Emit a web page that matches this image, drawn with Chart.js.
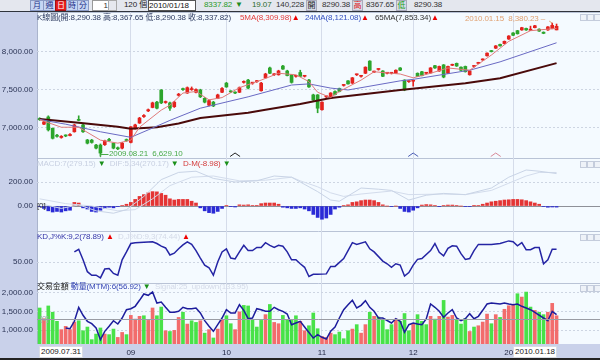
<!DOCTYPE html>
<html><head><meta charset="utf-8">
<script src="https://cdn.jsdelivr.net/npm/chart.js@4.4.1/dist/chart.umd.min.js"></script>
<style>
html,body{margin:0;padding:0;width:600px;height:360px;overflow:hidden;background:#c9d1ea;font-family:"Liberation Sans","Noto Sans CJK TC",sans-serif;font-size:8px;}
canvas{position:absolute;left:0;}
.t{position:absolute;white-space:nowrap;line-height:10px;font-size:8px;letter-spacing:-0.1px;}
.b{position:absolute;top:0;height:9px;line-height:9px;text-align:center;font-size:8px;border:1px solid #8a9ac4;background:#c6d5f3;color:#1c2f86;}
.ic{position:absolute;width:5px;height:5px;border:1px solid #c4ccdc;background:#eef2f8;}
#bar{position:absolute;left:0;top:0;width:600px;height:11px;background:#e4e7ee;border-bottom:1px solid #30343c;}
#bot{position:absolute;left:0;top:358px;width:600px;height:2px;background:#222;}
.box{position:absolute;top:346px;height:10px;line-height:10px;background:#fff;border:1px solid #d8dce4;padding:0 1px;font-size:8px;color:#222;}
</style></head><body>
<div id="bar">
  <div class="b" style="left:30px;width:12px">月</div>
  <div class="b" style="left:43px;width:11px">週</div>
  <div class="b" style="left:55px;width:10px;background:#e41c1c;color:#fff;border-color:#a01010">日</div>
  <div class="b" style="left:66px;width:10px">時</div>
  <div class="b" style="left:77px;width:10px">分</div>
  <div class="b" style="left:92px;width:15px;background:#fff;border-color:#999;color:#333;text-align:right">1</div>
  <div class="b" style="left:108px;width:7px;background:#e6e8ee;border-color:#aaa;"></div>
  <div class="t" style="left:124px;top:0;color:#222">120 個</div>
  <div class="b" style="left:148px;width:46px;background:#fff;border-color:#555;color:#111;text-align:left">2010/01/18 ▾</div>
  <div class="t" style="left:204px;top:0;color:#2a9a2a">8337.82</div>
  <div class="t" style="left:235px;top:0;color:#1e8a1e">▼</div>
  <div class="t" style="left:252px;top:0;color:#2a6a2a">19.07</div>
  <div class="t" style="left:276px;top:0;color:#333">140,228</div>
  <div class="b" style="left:306px;width:9px;background:#d6dbe6;border-color:#aab;color:#222">開</div>
  <div class="t" style="left:322px;top:0;color:#333">8290.38</div>
  <div class="b" style="left:352px;width:9px;background:#d6dbe6;border-color:#aab;color:#e01818">高</div>
  <div class="t" style="left:366px;top:0;color:#333">8367.65</div>
  <div class="b" style="left:396px;width:9px;background:#d6dbe6;border-color:#aab;color:#18a018">低</div>
  <div class="t" style="left:414px;top:0;color:#333">8290.38</div>
</div>
<canvas id="c1" width="600" height="146" style="top:12px"></canvas>
<canvas id="c2" width="600" height="73" style="top:158px"></canvas>
<canvas id="c3" width="600" height="52" style="top:231px"></canvas>
<canvas id="c4" width="600" height="75" style="top:283px"></canvas>

<div class="t" style="left:37px;top:13px;color:#2e3c62">K線圖(開:8,290.38 高:8,367.65 低:8,290.38 收:8,337.82)</div>
<div class="t" style="left:240px;top:13px;color:#e23c3c">5MA(8,309.98)<span style="color:#e00">▲</span></div>
<div class="t" style="left:305px;top:13px;color:#3450c0">24MA(8,121.08)<span style="color:#e00">▲</span></div>
<div class="t" style="left:375px;top:13px;color:#333">65MA(7,853.34)<span style="color:#e00">▲</span></div>
<div class="t" style="left:465px;top:14px;color:#e0a070">2010.01.15&nbsp;&nbsp;8,380.23 &ndash;</div>
<div class="t" style="left:109px;top:149px;color:#4aaa4a">2009.08.21&nbsp;&nbsp;6,629.10</div>

<div class="t" style="left:37px;top:159px;color:#c8d0e2">MACD:7(279.15)<span style="color:#1a901a"> ▼</span>&nbsp; DIF:5,34(270.17)<span style="color:#1a901a"> ▼</span>&nbsp; <span style="color:#d43c3c">D-M(-8.98)</span><span style="color:#1a901a"> ▼</span></div>
<div class="t" style="left:37px;top:201px;color:#333">[0]</div>

<div class="t" style="left:37px;top:232px;color:#3434a8">KD,J%K:9,2(78.89)<span style="color:#e00"> ▲</span><span style="color:#d4dae8">&nbsp; D,J%D:9,3(74.44)</span><span style="color:#e00"> ▲</span></div>

<div class="t" style="left:37px;top:282px;color:#222">交易金額&nbsp;<span style="color:#3444b4">動量(MTM):6(56.92)</span><span style="color:#1a901a"> ▼</span><span style="color:#d4dae8">&nbsp; Signal:25_updown(133.95)</span></div>
<div class="t" style="left:40px;top:314px;color:#a0a4ac">[0]</div>

<div class="ic" style="left:580px;top:14px"></div><div class="ic" style="left:587px;top:14px"></div><div class="ic" style="left:594px;top:14px"></div>
<div class="ic" style="left:580px;top:161px"></div><div class="ic" style="left:587px;top:161px"></div><div class="ic" style="left:594px;top:161px"></div>
<div class="ic" style="left:580px;top:234px"></div><div class="ic" style="left:587px;top:234px"></div><div class="ic" style="left:594px;top:234px"></div>
<div class="ic" style="left:580px;top:285px"></div><div class="ic" style="left:587px;top:285px"></div><div class="ic" style="left:594px;top:285px"></div>

<div class="box" style="left:39px">2009.07.31</div>
<div class="box" style="left:513px">2010.01.18</div>
<div id="bot"></div>

<script>
// ---------- DATA ----------
const opens = [7125,7050,7145,6996,6905,6875,6900,6900,6950,7110,
7040,6842,6840,6775,6775,6780,6850,6800,6740,6735,
6845,6810,6990,7065,7150,7225,7270,7340,7500,7335,
7330,7280,7430,7515,7460,7505,7470,7500,7390,7300,
7340,7390,7470,7590,7480,7465,7470,7600,7630,7590,
7610,7490,7660,7790,7700,7700,7815,7750,7700,7680,
7730,7680,7630,7435,7435,7240,7410,7390,7480,7520,
7560,7620,7590,7700,7680,7720,7880,7735,7770,7750,
7720,7720,7720,7790,7630,7610,7615,7720,7740,7720,
7725,7820,7750,7830,7720,7825,7850,7800,7810,7700,
7810,7850,7895,7950,8015,8050,8100,8110,8170,8250,
8280,8290,8310,8285,8320,8300,8260,8290,8310,8290.38];
const closes = [7110,7080,6975,6864,6890,6890,6895,6915,7040,7100,
6950,6800,6810,6735,6670,6830,6835,6735,6725,6800,
6835,7015,7040,7130,7165,7240,7330,7260,7330,7345,
7260,7340,7445,7505,7530,7515,7505,7410,7340,7360,
7290,7435,7520,7540,7475,7460,7530,7605,7525,7590,
7615,7590,7710,7720,7700,7750,7775,7690,7600,7680,
7680,7680,7540,7370,7260,7340,7410,7460,7440,7480,
7560,7580,7660,7700,7680,7800,7760,7745,7770,7680,
7720,7720,7760,7760,7500,7610,7620,7680,7690,7720,
7790,7790,7810,7670,7810,7835,7815,7760,7740,7750,
7810,7860,7905,7985,8005,8080,8080,8140,8210,8220,
8240,8320,8290,8300,8345,8275,8245,8330,8350,8337.82];
const highs = [7135,7090,7160,7000,6915,6900,6910,6925,7050,7160,
7050,6850,6850,6785,6790,6840,6865,6805,6750,6810,
6855,7020,7050,7140,7175,7250,7340,7350,7505,7355,
7340,7350,7455,7525,7540,7540,7515,7510,7400,7370,
7350,7445,7530,7600,7490,7475,7540,7620,7640,7600,
7625,7600,7720,7800,7715,7760,7825,7760,7705,7690,
7760,7690,7640,7445,7440,7345,7420,7465,7490,7525,
7570,7625,7665,7710,7690,7805,7885,7750,7780,7755,
7730,7730,7765,7795,7635,7620,7630,7725,7745,7730,
7795,7825,7815,7835,7815,7840,7855,7805,7815,7755,
7820,7865,7910,7990,8020,8085,8105,8145,8215,8255,
8285,8325,8315,8340,8350,8305,8265,8335,8380.23,8367.65];
const lows = [7100,7045,6960,6855,6880,6865,6885,6895,6945,7095,
6940,6790,6800,6725,6629.1,6770,6825,6725,6715,6725,
6825,6805,6985,7060,7140,7215,7265,7250,7320,7325,
7230,7270,7420,7495,7455,7495,7460,7400,7330,7290,
7280,7385,7465,7535,7465,7450,7465,7590,7515,7575,
7600,7485,7655,7715,7690,7695,7770,7685,7590,7670,
7675,7670,7535,7360,7200,7235,7400,7385,7435,7475,
7550,7575,7585,7690,7670,7715,7755,7730,7760,7675,
7710,7710,7715,7755,7490,7600,7550,7675,7685,7710,
7720,7785,7745,7660,7715,7820,7810,7755,7735,7695,
7800,7845,7890,7945,8000,8045,8075,8105,8165,8215,
8235,8285,8285,8280,8315,8270,8240,8285,8305,8290.38];

const ma5Idx = [0,5,9,14,18,21,23,28,30,33,36,39,42,46,51,55,59,62,64,67,69,74,77,81,83,86,90,94,99,104,108,113,119];
const ma5Val = [7110,7010,7010,6840,6800,6840,7010,7235,7300,7460,7480,7370,7400,7530,7630,7720,7700,7610,7470,7400,7480,7630,7740,7720,7710,7660,7720,7790,7760,7960,8140,8280,8310];
const ma24Idx = [0,2,6,14,21,25,30,37,48,58,62,67,71,83,86,99,106,119];
const ma24Val = [7115,7090,7050,6950,6877,6975,7100,7260,7410,7565,7580,7525,7500,7620,7640,7760,7870,8121];
const ma65Idx = [0,9,18,21,27,32,37,48,52,60,67,83,98,106,119];
const ma65Val = [7118,7070,7017,6990,7010,7060,7130,7200,7240,7316,7395,7500,7590,7654,7853];

const macdHist = [-5,-20,-40,-50,-45,-50,-40,-35,30,25,
-15,-25,-45,-50,-35,-20,-10,-15,-5,5,
15,30,55,80,95,110,120,118,105,90,
60,50,55,55,55,40,25,-15,-40,-55,
-60,-45,-20,5,-3,-8,10,8,10,5,
3,20,25,25,25,15,-10,-15,-20,-20,
-15,-25,-40,-70,-95,-110,-100,-70,-25,-10,
5,10,30,35,45,50,50,45,30,10,
0,-5,0,-20,-45,-50,-35,-15,8,12,
10,5,-3,5,8,8,5,0,-5,-5,
2,5,15,25,35,40,45,50,52,55,
55,52,45,35,25,15,-5,-10,-8,-8.98];
const difIdx = [0,5,9,13,17,20,24,28,32,36,40,45,50,54,58,60,64,67,69,74,78,81,85,89,93,98,104,108,112,115,119];
const difVal = [20,-20,10,-40,-60,-30,80,220,280,290,230,200,210,250,240,200,120,50,40,150,140,130,50,90,105,95,150,240,300,290,270.17];
const sigIdx = [0,6,12,18,22,26,30,35,40,46,52,58,60,64,67,70,74,81,85,93,98,104,108,112,115,119];
const sigVal = [60,20,0,-40,-30,60,170,240,250,210,215,240,210,160,110,80,100,125,95,100,95,130,190,250,280,279.15];

const kdIdx = [8,9,10,11,12,13,14,15,16,17,18,19,20,21,22,24,26,27,28,29,30,31,32,33,34,35,36,37,38,39,40,41,42,43,44,45,46,47,48,49,50,51,52,53,54,55,56,57,58,59,60,61,62,63,64,66,67,68,70,71,72,73,75,76,77,79,80,81,82,83,84,85,86,87,88,90,91,92,93,94,95,96,97,98,99,100,101,103,104,106,108,109,110,111,112,113,114,115,116,117,118,119];
const kdVal = [73,79,55,28,20,20,14,34,35,24,20,55,73,92,94,95,96,92,86,82,66,70,80,89,96,90,76,59,43,37,20,50,73,80,59,57,73,88,76,76,83,83,94,88,83,88,86,73,55,55,46,38,17,22,22,23,40,40,58,76,94,90,96,80,73,52,46,38,46,43,18,26,43,56,58,76,92,72,64,81,87,86,69,56,58,76,90,90,90,92,98,96,87,94,78,78,83,83,46,55,79,78.89];

const volume = [1595,1305,1650,1480,1235,1010,1100,1010,1215,1250,
980,1080,740,890,1055,890,875,1025,800,935,
875,1395,1295,1370,1385,1260,1595,1385,1620,980,
960,990,1340,1480,1160,1250,1205,1250,915,1010,
785,1025,1280,1385,1170,1010,1490,1665,1650,1280,
1080,1260,1415,1690,1205,1170,1395,1280,1260,1385,
1235,980,1115,1460,1035,825,800,915,875,945,
765,980,1025,1145,915,1145,1480,1370,1350,1280,
1010,1145,1295,1235,1445,980,1170,1415,1235,1145,
1370,1295,1370,1800,1350,1395,1295,1160,1305,960,
1080,1115,1215,1430,1170,1415,1340,1560,1655,1675,
1980,1890,2025,1620,1530,1480,1415,1480,1720,1385];
const volDir = [-1,1,-1,-1,-1,1,1,1,1,-1,
-1,-1,-1,-1,-1,1,-1,-1,1,1,
-1,1,1,1,-1,1,1,-1,-1,1,
-1,1,1,-1,1,-1,-1,1,-1,1,
-1,1,1,-1,-1,1,1,-1,-1,-1,
-1,-1,1,-1,1,1,-1,-1,-1,-1,
1,1,-1,-1,-1,1,1,1,-1,-1,
-1,-1,1,-1,1,1,-1,1,-1,-1,
-1,-1,1,-1,-1,-1,1,-1,-1,-1,
1,-1,1,-1,1,1,-1,-1,-1,1,
-1,1,1,1,-1,1,-1,1,1,1,
-1,1,-1,-1,1,-1,-1,1,1,1];
const mtmIdx = [6,7,8,9,10,11,12,13,14,15,16,17,18,19,20,21,22,23,24,25,26,27,28,29,30,31,32,33,34,35,36,37,38,39,40,41,42,43,44,45,46,47,48,49,50,51,52,53,54,55,56,57,58,59,60,61,63,64,65,66,67,68,69,70,71,72,73,74,75,76,77,78,79,81,82,83,84,85,86,87,88,89,90,91,92,93,94,95,96,97,98,99,100,101,102,103,104,106,107,108,109,110,111,112,113,114,116,117,118,119];
const mtmVal = [-117,-126,-30,152,48,-30,-61,-117,-269,-160,-95,-22,-65,13,121,134,165,243,325,308,351,208,221,152,87,87,100,152,134,134,143,78,-22,-95,-160,-74,13,121,78,78,186,113,4,13,134,121,100,100,152,121,100,65,-74,-52,-30,-104,-247,-204,-238,-260,-160,-104,13,121,186,243,143,178,238,152,100,13,13,-52,4,-30,-173,-74,-52,-65,-74,0,195,152,100,22,78,121,13,-22,4,69,4,35,113,195,208,195,208,195,186,195,165,143,121,87,13,-22,100,56.92];

const monthIdx = [21,43,65,86,109];
const monthLabels = ['09','10','11','12','2010'];
const priceTicks = [7000,7500,8000];
const macdTicks = [0,200];
const kdTicks = [50];
const volTicks = [1000,1500,2000];
const lowMarkIdx = 14;
const chevIdx = [45,86,105];
const chevColor = ['#222222','#4a5cb4','#d88898'];

// ---------- HELPERS ----------
const FONT = '"Liberation Sans","Noto Sans CJK TC",sans-serif';
Chart.defaults.font.family = FONT;
Chart.defaults.font.size = 8;
const fmt2 = v => Number(v).toLocaleString('en-US',{minimumFractionDigits:2,maximumFractionDigits:2});
const pts = (ix, vals) => ix.map((x,k)=>({x, y: vals[k]}));
const noPad = s => { s.paddingTop = 0; s.paddingBottom = 0; s.paddingLeft = 0; s.paddingRight = 0; };

function xScale(show){
  return {type:'linear', min:-0.6, max:129, offset:false,
    afterBuildTicks: s => { s.ticks = monthIdx.map(v=>({value:v})); },
    grid:{color:'#d5dcea', drawTicks:false, lineWidth:1, offset:false},
    border:{display:false},
    ticks:{display:show, autoSkip:false, maxRotation:0, padding:4, color:'#1e2440', font:{size:8},
      callback: v => { const k = monthIdx.indexOf(v); return k>=0 ? monthLabels[k] : ''; }},
    afterFit: s => { s.height = show ? 14 : 0; noPad(s); }
  };
}
function yScale(min, max, ticks){
  return {type:'linear', position:'left', min, max,
    afterBuildTicks: s => { s.ticks = ticks.map(v=>({value:v})); },
    afterFit: s => { s.width = 37; noPad(s); },
    grid:{color:'#cdd5e2', drawTicks:false},
    border:{display:false, dash:[2,2]},
    ticks:{padding:4, color:'#2a3354', font:{size:8}, callback: v => fmt2(v)}
  };
}
const bgPlugin = {id:'bg', beforeDraw(chart){
  const {ctx, chartArea:a} = chart;
  ctx.save();
  ctx.fillStyle = '#f4faff';
  ctx.fillRect(a.left, a.top, a.right-a.left, a.bottom-a.top);
  ctx.strokeStyle = '#b9c3d6'; ctx.lineWidth = 1;
  ctx.beginPath(); ctx.moveTo(a.left, a.top+0.5); ctx.lineTo(a.right, a.top+0.5); ctx.stroke();
  ctx.strokeStyle = '#aab4cc';
  ctx.beginPath(); ctx.moveTo(a.left+0.5, a.top); ctx.lineTo(a.left+0.5, a.bottom); ctx.stroke();
  ctx.restore();
}};
function zeroLine(scaleId, color, after){
  return {id:'zero'+scaleId+(after?'a':'b'), [after?'afterDatasetsDraw':'beforeDatasetsDraw'](chart){
    const {ctx, chartArea:a} = chart; const y = Math.round(chart.scales[scaleId].getPixelForValue(0))+0.5;
    ctx.save(); ctx.strokeStyle = color; ctx.lineWidth = 1;
    ctx.beginPath(); ctx.moveTo(a.left, y); ctx.lineTo(a.right, y); ctx.stroke(); ctx.restore();
  }};
}
const base = {responsive:false, animation:false, devicePixelRatio:1, layout:{padding:0},
  plugins:{legend:{display:false}, tooltip:{enabled:false}}};

// ---------- PRICE ----------
const upCol = '#e4221e', dnCol = '#2ca52c';
const cCol = opens.map((o,i)=> closes[i] >= o ? upCol : dnCol);
const markPlugin = {id:'marks', afterDatasetsDraw(chart){
  const {ctx, chartArea:a, scales:{x,y}} = chart;
  ctx.save();
  const lx = Math.round(x.getPixelForValue(lowMarkIdx))+0.5, ly = y.getPixelForValue(lows[lowMarkIdx]);
  ctx.strokeStyle = '#4aaa4a'; ctx.lineWidth = 1;
  ctx.beginPath(); ctx.moveTo(lx, ly+1); ctx.lineTo(lx, a.bottom-3.5); ctx.lineTo(lx+8, a.bottom-3.5); ctx.stroke();
  const hx = x.getPixelForValue(118), hy = y.getPixelForValue(highs[118]);
  ctx.strokeStyle = '#e0a070';
  ctx.beginPath(); ctx.moveTo(hx-3, hy-2); ctx.lineTo(hx, hy); ctx.stroke();
  chevIdx.forEach((ci,k)=>{
    const cx = x.getPixelForValue(ci);
    ctx.strokeStyle = chevColor[k]; ctx.lineWidth = 1;
    ctx.beginPath(); ctx.moveTo(cx-5, a.bottom-1.5); ctx.lineTo(cx, a.bottom-5); ctx.lineTo(cx+5, a.bottom-1.5); ctx.stroke();
  });
  ctx.restore();
}};
new Chart(document.getElementById('c1'), {
  data:{datasets:[
    {type:'line', data:pts(ma5Idx, ma5Val), borderColor:'#e07a7a', borderWidth:1, pointRadius:0, order:0},
    {type:'line', data:pts(ma24Idx, ma24Val), borderColor:'#6a6ac4', borderWidth:1, pointRadius:0, order:0},
    {type:'line', data:pts(ma65Idx, ma65Val), borderColor:'#4a0a0a', borderWidth:2, pointRadius:0, order:0},
    {type:'bar', data:opens.map((o,i)=>({x:i, y:[o, closes[i]]})), backgroundColor:cCol, barThickness:3, grouped:false, minBarLength:1, order:1},
    {type:'bar', data:lows.map((l,i)=>({x:i, y:[l, highs[i]]})), backgroundColor:cCol, barThickness:1, grouped:false, order:2}
  ]},
  options:{...base, scales:{x:xScale(false), y:yScale(6605, 8526, priceTicks)}},
  plugins:[bgPlugin, markPlugin]
});

// ---------- MACD ----------
new Chart(document.getElementById('c2'), {
  data:{datasets:[
    {type:'line', data:pts(difIdx, difVal), borderColor:'#c9d4e6', borderWidth:1, pointRadius:0, order:0},
    {type:'line', data:pts(sigIdx, sigVal), borderColor:'#d3dcec', borderWidth:1, pointRadius:0, order:0},
    {type:'bar', data:macdHist.map((v,i)=>({x:i, y:v})), backgroundColor:macdHist.map(v=> v>=0 ? '#e43434' : '#2a2ad6'), barThickness:3, grouped:false, order:1}
  ]},
  options:{...base, scales:{x:xScale(false), y:yScale(-208, 400, macdTicks)}},
  plugins:[bgPlugin, zeroLine('y','#8e9098',false)]
});

// ---------- KD ----------
new Chart(document.getElementById('c3'), {
  data:{datasets:[
    {type:'line', data:pts(kdIdx, kdVal), borderColor:'#2424a4', borderWidth:1.5, pointRadius:0}
  ]},
  options:{...base, scales:{x:xScale(false), y:yScale(2.3, 120.5, kdTicks)}},
  plugins:[bgPlugin]
});

// ---------- VOLUME + MTM ----------
new Chart(document.getElementById('c4'), {
  data:{datasets:[
    {type:'line', yAxisID:'ym', data:pts(mtmIdx, mtmVal), borderColor:'#1c1c9c', borderWidth:1.5, pointRadius:0, order:0},
    {type:'bar', yAxisID:'y', data:volume.map((v,i)=>({x:i, y:v})), backgroundColor:volDir.map(d=> d>0 ? '#f26c6c' : '#48e248'), barThickness:3, grouped:false, order:1}
  ]},
  options:{...base, scales:{
    x:xScale(true),
    y:yScale(622, 2270, volTicks),
    ym:{type:'linear', display:false, min:-325, max:468}
  }},
  plugins:[bgPlugin, zeroLine('ym','#9a9ca4',true)]
});
</script>
</body></html>
